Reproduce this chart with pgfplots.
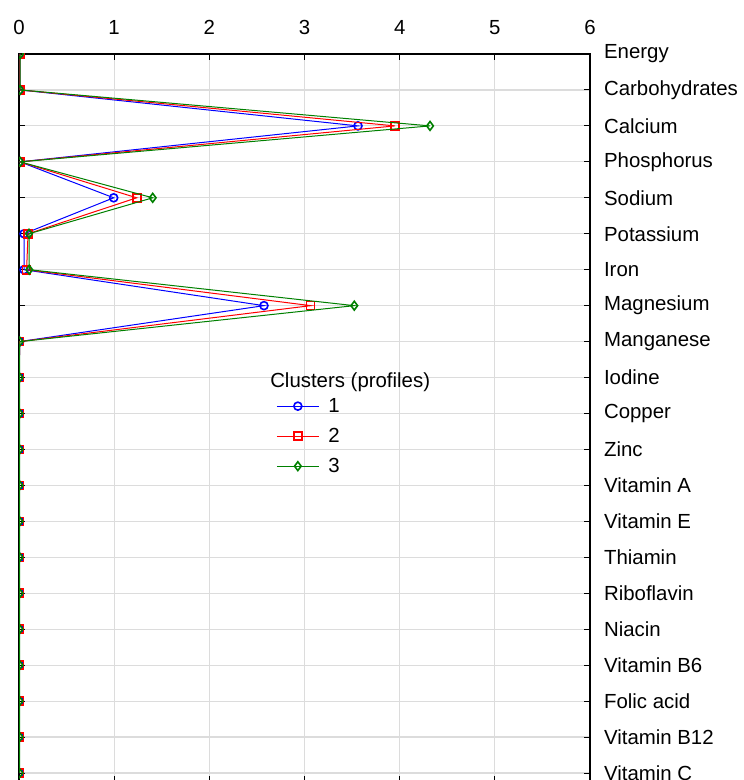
\documentclass[border=0pt]{standalone}
\usepackage{pgfplots}
\usepackage{pgfplotstable}
\pgfplotsset{compat=1.18}
\usepackage{fontspec}
\setmainfont{Liberation Sans}
\definecolor{gridgray}{RGB}{220,220,220}
\definecolor{cblue}{RGB}{0,0,255}
\definecolor{cred}{RGB}{255,0,0}
\definecolor{cgreen}{RGB}{0,128,0}
\pgfplotstableread{
idx blue red green
0 0.010 0.010 0.012
1 0.010 0.010 0.012
2 3.562 3.951 4.319
3 0.010 0.010 0.012
4 0.995 1.237 1.405
5 0.053 0.095 0.105
6 0.053 0.080 0.108
7 2.574 3.065 3.523
8 0.006 0.006 0.008
9 0.004 0.004 0.006
10 0.004 0.004 0.006
11 0.004 0.004 0.006
12 0.004 0.004 0.006
13 0.004 0.004 0.006
14 0.004 0.004 0.006
15 0.004 0.004 0.006
16 0.004 0.004 0.006
17 0.004 0.004 0.006
18 0.004 0.004 0.006
19 0.004 0.004 0.006
20 0.004 0.004 0.006
}\data
\begin{document}
\fontsize{10}{12}\selectfont
\begin{tikzpicture}
\begin{axis}[
  scale only axis, width=285.5pt, height=364pt,
  xmin=0, xmax=6, ymin=0, ymax=20.25, y dir=reverse,
  xtick={0,1,2,3,4,5,6}, ytick={0,1,...,20},
  yticklabels={Energy,Carbohydrates,Calcium,Phosphorus,Sodium,Potassium,Iron,Magnesium,Manganese,Iodine,Copper,Zinc,Vitamin A,Vitamin E,Thiamin,Riboflavin,Niacin,Vitamin B6,Folic acid,Vitamin B12,Vitamin C},
  xticklabel pos=upper, yticklabel pos=right,
  xtick pos=both, ytick pos=both,
  tick align=inside, major tick length=3pt,
  grid=major, grid style={gridgray, line width=0.6pt},
  axis line style={black, line width=0.6pt},
  tick style={black, line width=0.5pt},
  ticklabel style={font=\fontsize{10.2}{12}\selectfont},
  /pgf/number format/assume math mode=true,
  xticklabel shift=6pt, yticklabel shift=3.5pt,
  clip=true, clip marker paths=true,
  legend style={at={(axis cs:2.70,10.63)}, anchor=west, draw=none, fill=none,
    inner sep=0pt, row sep=4pt, font=\fontsize{10.2}{12}\selectfont,
    nodes={inner sep=1pt, text height=7.5pt, text depth=1.5pt},
    /tikz/every odd column/.append style={column sep=3.5pt}},
  legend cell align=left,
  legend image code/.code={\draw[mark repeat=2,mark phase=2] plot coordinates {(0pt,0pt)(10.5pt,0pt)(21pt,0pt)};},
]
\addplot[cblue, line width=0.5pt, mark=o, mark size=2pt, mark options={solid, line width=0.8pt}] table[x=blue, y=idx]{\data};
\addlegendentry{1}
\addplot[cred, line width=0.5pt, mark=square, mark size=2pt, mark options={solid, line width=0.8pt}] table[x=red, y=idx]{\data};
\addlegendentry{2}
\addplot[cgreen, line width=0.5pt, mark=diamond, mark size=2.2pt, mark options={solid, line width=0.8pt}] table[x=green, y=idx]{\data};
\addlegendentry{3}
\node[font=\fontsize{10.2}{12}\selectfont] at (axis cs:3.48,9.12) {Clusters (profiles)};
\coordinate (tl) at (axis cs:0,0);
\end{axis}
\pgfresetboundingbox
\path[use as bounding box] ([xshift=-9.5pt,yshift=27pt]tl) rectangle ([xshift=362pt,yshift=-363pt]tl);
\end{tikzpicture}
\end{document}
